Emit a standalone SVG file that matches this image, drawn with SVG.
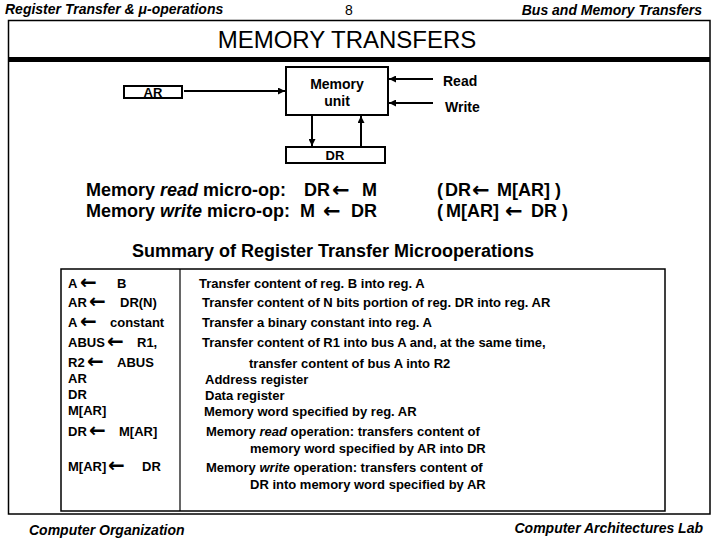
<svg xmlns="http://www.w3.org/2000/svg" width="720" height="540" viewBox="0 0 720 540">
<style>
text{font-family:"Liberation Sans",Arial,sans-serif;fill:#000}
.hd{font-size:14px;font-weight:bold;font-style:italic}
.b13{font-size:13px;font-weight:bold}
.b14{font-size:14px;font-weight:bold}
.b18{font-size:18px;font-weight:bold}
.arr{font-family:"DejaVu Sans",sans-serif;font-size:20px;font-weight:bold}
.arb{font-family:"DejaVu Sans",sans-serif;font-size:21px;font-weight:bold}
.box{fill:#fff;stroke:#000;stroke-width:2}
.ln{stroke:#000;stroke-width:2;fill:none}
.it{font-style:italic}
</style>
<defs>
<marker id="ah2" viewBox="0 0 10 10" refX="10" refY="5" markerWidth="7" markerHeight="7" orient="auto" markerUnits="userSpaceOnUse"><path d="M0,0L10,5L0,10z" fill="#000"/></marker>
</defs>
<rect width="720" height="540" fill="#fff"/>
<g id="header">
<text class="hd" x="5" y="14">Register Transfer &amp; μ-operations</text>
<text x="349" y="15" font-size="14" text-anchor="middle">8</text>
<text class="hd" x="702" y="15" text-anchor="end">Bus and Memory Transfers</text>
</g>
<g id="frame">
<rect x="8.5" y="20.5" width="701.5" height="493.5" fill="none" stroke="#000" stroke-width="1.5"/>
<rect x="8" y="57" width="702" height="5" fill="#000"/>
<text x="347" y="48" font-size="24" text-anchor="middle">MEMORY  TRANSFERS</text>
</g>
<g id="connectors">
<line class="ln" x1="184" y1="91" x2="285" y2="91" marker-end="url(#ah2)"/>
<line class="ln" x1="433" y1="79" x2="389" y2="79" marker-end="url(#ah2)"/>
<line class="ln" x1="433" y1="103" x2="389" y2="103" marker-end="url(#ah2)"/>
<line class="ln" x1="312" y1="116" x2="312" y2="146" marker-end="url(#ah2)"/>
<line class="ln" x1="361" y1="146" x2="361" y2="116" marker-end="url(#ah2)"/>
</g>
<g id="AR">
<rect class="box" x="124" y="86" width="58" height="12"/>
<text class="b13" x="153" y="97" text-anchor="middle">AR</text>
</g>
<g id="memory">
<rect class="box" x="286" y="67" width="102" height="48"/>
<text class="b14" x="337" y="89" text-anchor="middle">Memory</text>
<text class="b14" x="337" y="106" text-anchor="middle">unit</text>
</g>
<g id="read"><text class="b14" x="443" y="86">Read</text></g>
<g id="write"><text class="b14" x="445" y="112">Write</text></g>
<g id="DR">
<rect class="box" x="286" y="147" width="99" height="16"/>
<text class="b13" x="335" y="160" text-anchor="middle">DR</text>
</g>
<g id="microops">
<text class="b18" x="86" y="196">Memory <tspan class="it">read</tspan>  micro-op:</text>
<text class="b18" x="304" y="196">DR</text><text class="arb" x="332" y="197">←</text><text class="b18" x="362" y="196">M</text>
<text class="b18" x="86" y="217">Memory <tspan class="it">write</tspan>  micro-op:</text>
<text class="b18" x="300" y="217">M</text><text class="arb" x="323" y="218">←</text><text class="b18" x="351" y="217">DR</text>
<text class="b18" x="437" y="196">(</text><text class="b18" x="445" y="196">DR</text><text class="arb" x="472" y="197">←</text><text class="b18" x="497" y="196">M[AR] )</text>
<text class="b18" x="437" y="217">(</text><text class="b18" x="446" y="217">M[AR]</text><text class="arb" x="505" y="218">←</text><text class="b18" x="531" y="217">DR )</text>
<text class="b18" x="333" y="257" text-anchor="middle">Summary of Register Transfer Microoperations</text>
</g>
<g id="table">
<rect x="61" y="269" width="604" height="242" fill="none" stroke="#000" stroke-width="1.5"/>
<line x1="180" y1="269" x2="180" y2="511" stroke="#000" stroke-width="1.2"/>
<text class="b13" x="68" y="288">A</text><text class="arr" x="80" y="289">←</text><text class="b13" x="117" y="288">B</text>
<text class="b13" x="68" y="307">AR</text><text class="arr" x="89" y="308">←</text><text class="b13" x="120" y="307">DR(N)</text>
<text class="b13" x="68" y="327">A</text><text class="arr" x="80" y="328">←</text><text class="b13" x="110" y="327">constant</text>
<text class="b13" x="68" y="347">ABUS</text><text class="arr" x="107" y="348">←</text><text class="b13" x="137" y="347">R1,</text>
<text class="b13" x="68" y="367">R2</text><text class="arr" x="87" y="368">←</text><text class="b13" x="117" y="367">ABUS</text>
<text class="b13" x="68" y="383">AR</text>
<text class="b13" x="68" y="399">DR</text>
<text class="b13" x="68" y="415">M[AR]</text>
<text class="b13" x="68" y="436">DR</text><text class="arr" x="89" y="437">←</text><text class="b13" x="119" y="436">M[AR]</text>
<text class="b13" x="68" y="471">M[AR]</text><text class="arr" x="108" y="472">←</text><text class="b13" x="142" y="471">DR</text>
<text class="b13" x="199" y="288">Transfer content of reg. B into reg. A</text>
<text class="b13" x="202" y="307">Transfer content of N bits portion of reg. DR into reg. AR</text>
<text class="b13" x="202" y="327">Transfer a binary constant into reg. A</text>
<text class="b13" x="202" y="347">Transfer content of R1 into bus A and, at the same time,</text>
<text class="b13" x="249" y="368">transfer content of bus A into R2</text>
<text class="b13" x="205" y="384">Address register</text>
<text class="b13" x="205" y="400">Data register</text>
<text class="b13" x="204" y="416">Memory word specified by reg. AR</text>
<text class="b13" x="206" y="436">Memory <tspan class="it">read</tspan> operation: transfers content of</text>
<text class="b13" x="250" y="453">memory word specified by AR into DR</text>
<text class="b13" x="206" y="472">Memory <tspan class="it">write</tspan> operation: transfers content of</text>
<text class="b13" x="250" y="489">DR into memory word specified by AR</text>
</g>
<g id="footer">
<text class="hd" x="29" y="535">Computer Organization</text>
<text class="hd" x="703" y="533" text-anchor="end">Computer Architectures Lab</text>
</g>
</svg>
